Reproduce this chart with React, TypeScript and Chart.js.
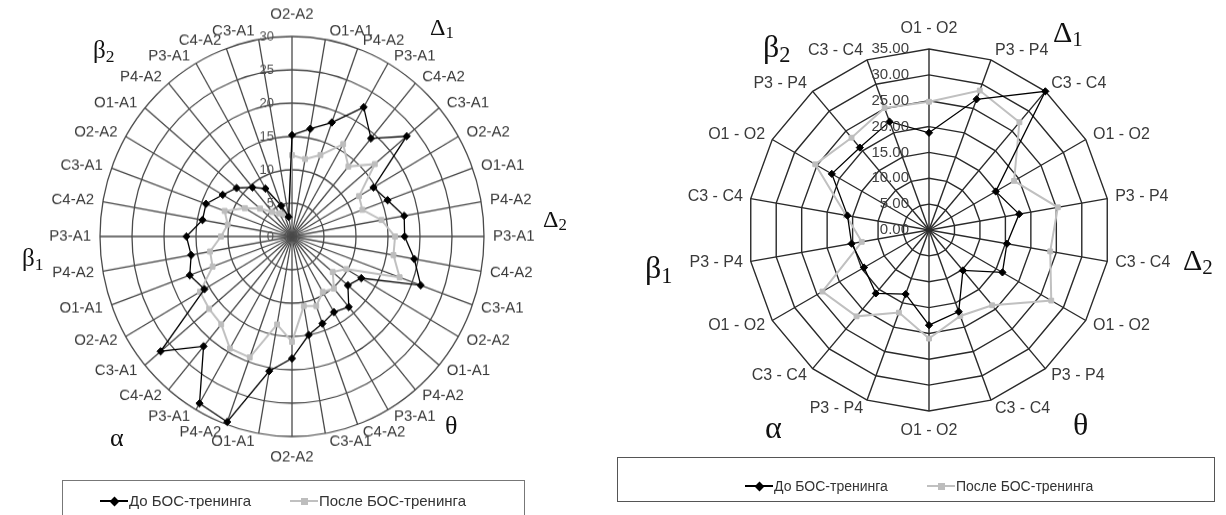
import React, { useEffect, useRef } from 'react';
import { Chart, registerables } from 'chart.js';

Chart.register(...registerables);

const leftCategories = [
  'O2-A2', 'O1-A1', 'P4-A2', 'P3-A1', 'C4-A2', 'C3-A1',
  'O2-A2', 'O1-A1', 'P4-A2', 'P3-A1', 'C4-A2', 'C3-A1',
  'O2-A2', 'O1-A1', 'P4-A2', 'P3-A1', 'C4-A2', 'C3-A1',
  'O2-A2', 'O1-A1', 'P4-A2', 'P3-A1', 'C4-A2', 'C3-A1',
  'O2-A2', 'O1-A1', 'P4-A2', 'P3-A1', 'C4-A2', 'C3-A1',
  'O2-A2', 'O1-A1', 'P4-A2', 'P3-A1', 'C4-A2', 'C3-A1',
];
const leftBefore = [
  15.2, 16.4, 18.2, 22.4, 19.2, 23.4,
  14.7, 15.9, 17.8, 17.6, 19.4, 21.4,
  12.5, 11.4, 13.8, 13.1, 13.9, 15.0,
  18.3, 20.5, 29.6, 28.9, 21.5, 26.8,
  15.8, 17.0, 16.0, 16.5, 14.2, 14.3,
  12.5, 11.3, 9.6, 8.3, 4.9, 3.0,
];
const leftAfter = [
  12.2, 11.8, 13.0, 16.0, 13.7, 16.9,
  12.1, 11.7, 14.2, 16.1, 16.1, 17.9,
  9.8, 8.3, 10.2, 9.6, 11.1, 10.6,
  15.8, 13.4, 19.3, 19.4, 17.2, 16.9,
  16.6, 13.2, 13.0, 11.1, 10.2, 11.2,
  8.5, 6.5, 4.8, 4.0, 3.5, 3.0,
];
const leftTickLabels = ['0', '5', '10', '15', '20', '25', '30'];

const rightCategories = [
  'O1 - O2', 'P3 - P4', 'C3 - C4',
  'O1 - O2', 'P3 - P4', 'C3 - C4',
  'O1 - O2', 'P3 - P4', 'C3 - C4',
  'O1 - O2', 'P3 - P4', 'C3 - C4',
  'O1 - O2', 'P3 - P4', 'C3 - C4',
  'O1 - O2', 'P3 - P4', 'C3 - C4',
];
const rightBefore = [18.8, 26.9, 35.0, 14.9, 17.7, 15.3, 16.4, 10.2, 16.8, 18.4, 13.2, 16.0, 14.5, 15.2, 16.0, 21.7, 20.8, 22.3];
const rightAfter = [24.8, 28.7, 27.2, 19.0, 25.3, 23.8, 27.3, 19.0, 17.7, 21.0, 17.0, 21.8, 23.8, 13.2, 16.3, 25.4, 23.3, 25.1];
const rightTickLabels = ['0.00', '5.00', '10.00', '15.00', '20.00', '25.00', '30.00', '35.00'];

const seriesNames = ['До БОС-тренинга', 'После БОС-тренинга'];

const SANS = '"Liberation Sans", Arial, Helvetica, sans-serif';
const SERIF = '"Liberation Serif", "Times New Roman", serif';

const radarText = {
  id: 'radarText',
  afterDraw(chart: any, _args: any, o: any) {
    const scale = chart.scales.r;
    const ctx = chart.ctx;
    ctx.save();
    ctx.font = o.tickFont;
    ctx.fillStyle = o.tickColor;
    ctx.textAlign = 'right';
    ctx.textBaseline = 'middle';
    scale.ticks.forEach((t: any) => {
      const d = scale.getDistanceFromCenterForValue(t.value);
      ctx.fillText(t.label, scale.xCenter - o.tickOffset, scale.yCenter - d);
    });
    ctx.font = o.labelFont;
    ctx.fillStyle = o.labelColor;
    const labels = chart.data.labels;
    const h = o.labelHeight;
    for (let i = 0; i < labels.length; i++) {
      const p = scale.getPointPosition(i, scale.drawingArea);
      const ang = scale.getIndexAngle(i);
      const s = Math.sin(ang);
      const c = Math.cos(ang);
      const deg = Math.round((ang * 180) / Math.PI) % 360;
      let x = p.x;
      let align = 'center';
      const padX = o.padXBase + o.padXSin * Math.abs(s);
      if (deg === 0 || deg === 180) {
        align = 'center';
      } else if (deg < 180) {
        x = p.x + padX;
        align = 'left';
      } else {
        x = p.x - padX;
        align = 'right';
      }
      const padY = deg === 0 ? o.padYTop : deg === 180 ? o.padYBottom : o.padY;
      const y = p.y - c * (h / 2 + padY);
      ctx.textAlign = align;
      ctx.fillText(labels[i], x, y);
    }
    ctx.restore();
  },
};

type RadarProps = {
  width: number;
  height: number;
  labels: string[];
  before: number[];
  after: number[];
  max: number;
  tickLabels: string[];
  circular: boolean;
  padding: { left: number; top: number; right: number; bottom: number };
  text: any;
  gridColor: string;
  gridWidth: number;
};

function RadarCanvas(props: RadarProps) {
  const ref = useRef<HTMLCanvasElement | null>(null);
  useEffect(() => {
    const chart = new Chart(ref.current as HTMLCanvasElement, {
      type: 'radar',
      data: {
        labels: props.labels,
        datasets: [
          {
            label: seriesNames[0],
            data: props.before,
            borderColor: '#000000',
            backgroundColor: '#000000',
            borderWidth: 1.3,
            pointStyle: 'rectRot',
            pointRadius: 3.6,
            pointBorderWidth: 1,
            pointBorderColor: '#000000',
            pointBackgroundColor: '#000000',
            fill: false,
          },
          {
            label: seriesNames[1],
            data: props.after,
            borderColor: '#C0C0C0',
            backgroundColor: '#C0C0C0',
            borderWidth: 2,
            pointStyle: 'rect',
            pointRadius: 3.4,
            pointBorderWidth: 1,
            pointBorderColor: '#BDBDBD',
            pointBackgroundColor: '#BDBDBD',
            fill: false,
          },
        ],
      },
      options: {
        responsive: false,
        animation: false,
        events: [],
        layout: { padding: props.padding },
        elements: { line: { tension: 0 } },
        plugins: {
          legend: { display: false },
          tooltip: { enabled: false },
          radarText: props.text,
        } as any,
        scales: {
          r: {
            min: 0,
            max: props.max,
            startAngle: 0,
            beginAtZero: true,
            ticks: {
              display: false,
              stepSize: 5,
              callback: (v: any, i: number) => (props.tickLabels[i] !== undefined ? props.tickLabels[i] : String(v)),
            },
            pointLabels: { display: false },
            grid: { circular: props.circular, color: props.gridColor, lineWidth: props.gridWidth },
            angleLines: { color: props.gridColor, lineWidth: props.gridWidth },
          },
        },
      } as any,
      plugins: [radarText as any],
    });
    return () => chart.destroy();
  }, []);
  return <canvas ref={ref} width={props.width} height={props.height} style={{ display: 'block' }} />;
}

function Greek(p: { x: number; base: number; size: number; ch: string; sub?: string }) {
  const top = p.base - p.size * 0.8375;
  return (
    <div
      style={{
        position: 'absolute',
        left: p.x,
        top,
        fontSize: p.size,
        lineHeight: '1',
        fontFamily: SERIF,
        color: '#111111',
        whiteSpace: 'nowrap',
      }}
    >
      {p.ch}
      {p.sub ? <span style={{ fontSize: '0.7em', position: 'relative', top: '0.2em' }}>{p.sub}</span> : null}
    </div>
  );
}

function LegendItem(p: { x: number; y: number; kind: 'before' | 'after'; text: string; fontSize: number }) {
  const color = p.kind === 'before' ? '#000000' : '#C0C0C0';
  return (
    <div style={{ position: 'absolute', left: p.x, top: p.y, height: 0 }}>
      <div style={{ position: 'absolute', left: 0, top: p.kind === 'before' ? -0.75 : -1, width: 28, height: p.kind === 'before' ? 1.5 : 2, background: color }} />
      {p.kind === 'before' ? (
        <div style={{ position: 'absolute', left: 10.5, top: -3.5, width: 7, height: 7, background: '#000', transform: 'rotate(45deg)' }} />
      ) : (
        <div style={{ position: 'absolute', left: 10.5, top: -3.5, width: 7, height: 7, background: '#BDBDBD' }} />
      )}
      <div
        style={{
          position: 'absolute',
          left: 29,
          top: -p.fontSize * 0.6,
          fontSize: p.fontSize,
          lineHeight: '1.2',
          fontFamily: SANS,
          color: '#333333',
          whiteSpace: 'nowrap',
        }}
      >
        {p.text}
      </div>
    </div>
  );
}

export default function App() {
  const leftText = {
    tickFont: `13px ${SANS}`,
    tickColor: '#505050',
    tickOffset: 18,
    labelFont: `15px ${SANS}`,
    labelColor: '#3a3a3a',
    labelHeight: 15,
    padXBase: 3,
    padXSin: 6,
    padY: 0.5,
    padYTop: 14,
    padYBottom: 12,
  };
  const rightText = {
    tickFont: `15px ${SANS}`,
    tickColor: '#404040',
    tickOffset: 20,
    labelFont: `16px ${SANS}`,
    labelColor: '#3a3a3a',
    labelHeight: 16,
    padXBase: 2,
    padXSin: 6,
    padY: 1.5,
    padYTop: 12,
    padYBottom: 12,
  };
  return (
    <div style={{ position: 'absolute', left: 0, top: 0, width: 1226, height: 515, overflow: 'hidden', background: '#fff' }}>
      <div style={{ position: 'absolute', left: 0, top: 0, transform: 'scaleY(1.0417)', transformOrigin: '0 0' }}>
        <RadarCanvas
          width={610}
          height={470}
          labels={leftCategories}
          before={leftBefore}
          after={leftAfter}
          max={30}
          tickLabels={leftTickLabels}
          circular={true}
          padding={{ left: 100, top: 35, right: 126, bottom: 51 }}
          text={leftText}
          gridColor="#4a4a4a"
          gridWidth={1.3}
        />
      </div>
      <div style={{ position: 'absolute', left: 610, top: 0 }}>
        <RadarCanvas
          width={616}
          height={450}
          labels={rightCategories}
          before={rightBefore}
          after={rightAfter}
          max={35}
          tickLabels={rightTickLabels}
          circular={false}
          padding={{ left: 138, top: 49, right: 116, bottom: 39 }}
          text={rightText}
          gridColor="#2a2a2a"
          gridWidth={1.4}
        />
      </div>

      <Greek x={93} base={58} size={25} ch="β" sub="2" />
      <Greek x={430} base={35} size={24} ch="Δ" sub="1" />
      <Greek x={543} base={227} size={24} ch="Δ" sub="2" />
      <Greek x={445} base={435} size={26} ch="θ" />
      <Greek x={110} base={447} size={26} ch="α" />
      <Greek x={22} base={266} size={25} ch="β" sub="1" />

      <Greek x={763} base={57} size={32} ch="β" sub="2" />
      <Greek x={1053} base={42} size={30} ch="Δ" sub="1" />
      <Greek x={645} base={278} size={32} ch="β" sub="1" />
      <Greek x={1183} base={270} size={30} ch="Δ" sub="2" />
      <Greek x={765} base={438} size={32} ch="α" />
      <Greek x={1073} base={435} size={32} ch="θ" />

      <div style={{ position: 'absolute', left: 62, top: 480, width: 463, height: 45, border: '1.5px solid #777', boxSizing: 'border-box' }} />
      <LegendItem x={100} y={501} kind="before" text={seriesNames[0]} fontSize={15} />
      <LegendItem x={290} y={501} kind="after" text={seriesNames[1]} fontSize={15} />

      <div style={{ position: 'absolute', left: 617, top: 457, width: 598, height: 45, border: '1.5px solid #555', boxSizing: 'border-box' }} />
      <LegendItem x={745} y={486} kind="before" text={seriesNames[0]} fontSize={14} />
      <LegendItem x={927} y={486} kind="after" text={seriesNames[1]} fontSize={14} />
    </div>
  );
}
